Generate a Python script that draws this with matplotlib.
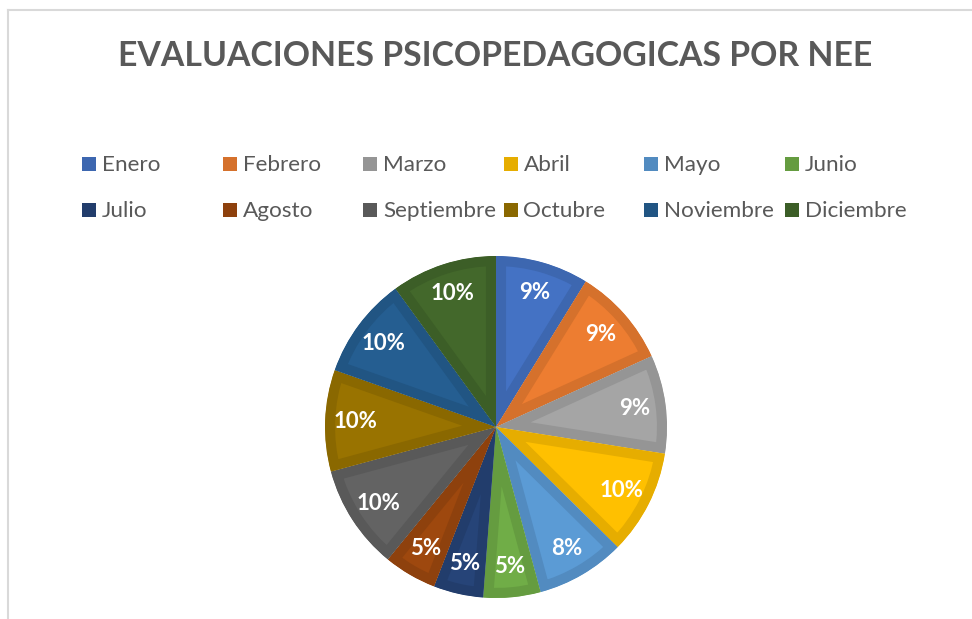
import numpy as np
import matplotlib
matplotlib.use("Agg")
import matplotlib.pyplot as plt
from matplotlib.patches import Rectangle, Wedge
from matplotlib.colors import to_rgb
from matplotlib.lines import Line2D

# datos (porcentajes)
meses = ['Enero', 'Febrero', 'Marzo', 'Abril', 'Mayo', 'Junio',
         'Julio', 'Agosto', 'Septiembre', 'Octubre', 'Noviembre', 'Diciembre']
valores = [8.8, 9.4, 9.3, 9.9, 8.4, 5.4, 4.7, 5.0, 9.9, 9.6, 9.6, 10.0]
colores = ['#4472C4', '#ED7D31', '#A5A5A5', '#FFC000', '#5B9BD5', '#70AD47',
           '#264478', '#9E480E', '#636363', '#997300', '#255E91', '#43682B']
titulo = 'EVALUACIONES PSICOPEDAGOGICAS POR NEE'

W, H = 972, 619
fig = plt.figure(figsize=(W / 100, H / 100), dpi=100)
fig.patch.set_facecolor('white')

# marco del grafico (solo arriba e izquierda visibles)
fig.add_artist(Line2D([8 / W, 8 / W], [0, 1 - 10 / H], transform=fig.transFigure,
                      color='#D9D9D9', lw=1.5))
fig.add_artist(Line2D([8 / W, 1], [1 - 10 / H, 1 - 10 / H], transform=fig.transFigure,
                      color='#D9D9D9', lw=1.5))

fig.text(495 / W, 1 - 56 / H, titulo, ha='center', va='center',
         fontsize=24.3, fontweight='bold', color='#595959', family='Lato')

bordes = [tuple(np.array(to_rgb(c)) * 0.9) for c in colores]

# leyenda manual en 2 filas x 6 columnas
for i, (m, c) in enumerate(zip(meses, bordes)):
    col, fila = i % 6, i // 6
    x0 = 82 + 140.5 * col
    y0 = 164 + 46 * fila
    fig.add_artist(Rectangle((x0 / W, 1 - (y0 + 7) / H), 14 / W, 14 / H,
                             transform=fig.transFigure, facecolor=c, edgecolor='none'))
    fig.text((x0 + 20) / W, 1 - (y0 + 1) / H, m, ha='left', va='center',
             fontsize=16.2, color='#595959', family='Lato')

cx, cy, r = 496, 427, 171
ax = fig.add_axes([(cx - r) / W, 1 - (cy + r) / H, 2 * r / W, 2 * r / H])
wedges, texts, autotexts = ax.pie(valores, colors=colores, startangle=90, counterclock=False,
                                  autopct='%1.0f%%', pctdistance=0.82, radius=1,
                                  wedgeprops=dict(linewidth=0))
ax.set_xlim(-1, 1)
ax.set_ylim(-1, 1)
ax.set_aspect('equal')
ax.axis('off')

# borde interior mas oscuro: trazo grueso recortado a la propia cuna
for w, b in zip(wedges, bordes):
    w.set_edgecolor(b)
    w.set_linewidth(14.5)
    w.set_joinstyle('miter')
    clip = Wedge(w.center, w.r, w.theta1, w.theta2, transform=ax.transData)
    w.set_clip_path(clip)
    w.set_clip_on(True)
for t in autotexts:
    t.set_color('white')
    t.set_fontsize(16)
    t.set_fontweight('bold')
    t.set_family('Lato')

fig.savefig('out.png', dpi=100)
